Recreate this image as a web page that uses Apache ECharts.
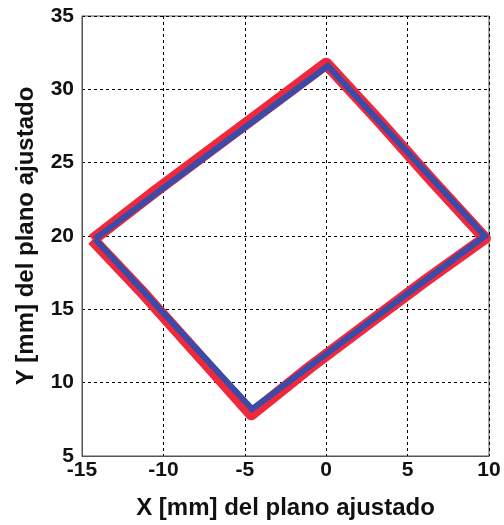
<!DOCTYPE html>
<html>
<head>
<meta charset="utf-8">
<script src="https://cdn.jsdelivr.net/npm/echarts@6/dist/echarts.min.js"></script>
<style>
  html, body { margin: 0; padding: 0; background: #fff; }
  #chart { width: 504px; height: 525px; }
</style>
</head>
<body>
<div id="chart"></div>
<script>
// Measured trajectory (red) around the square, in the fitted plane
const measuredX = [-14.35, -10.5, -7.0, -3.5, 0.0, 3.2, 6.4, 9.75, 6.1, 2.6, -1.0, -4.6, -7.9, -11.2, -14.35];
const measuredY = [19.75, 23.05, 25.95, 28.85, 31.75, 27.9, 23.9, 19.85, 16.95, 14.05, 11.05, 7.85, 11.95, 16.05, 19.75];

// Reference square (blue)
const targetX = [-14.2, 0.1, 9.75, -4.55, -14.2];
const targetY = [19.8, 31.6, 20.0, 8.2, 19.8];

// Axis ranges and ticks
const xMin = -15, xMax = 10, xStep = 5;
const yMin = 5, yMax = 35, yStep = 5;

const pairs = (xs, ys) => xs.map((x, i) => [x, ys[i]]);

const font = '"Liberation Sans", Arial, sans-serif';
const chart = echarts.init(document.getElementById('chart'), null, { renderer: 'canvas' });

const gridLine = { show: true, lineStyle: { color: '#000', width: 1, type: [3, 3] } };

chart.setOption({
  animation: false,
  grid: { left: 82, right: 15, top: 16, bottom: 62, show: true, borderColor: '#555', borderWidth: 1 },
  xAxis: {
    type: 'value', min: xMin, max: xMax, interval: xStep,
    name: 'X [mm] del plano ajustado', nameLocation: 'middle', nameGap: 40,
    nameTextStyle: { fontFamily: font, fontWeight: 'bold', fontSize: 24, color: '#111' },
    axisLine: { show: true, onZero: false, lineStyle: { color: '#555' } },
    axisTick: { show: false },
    axisLabel: { fontFamily: font, fontWeight: 'bold', fontSize: 21, color: '#111', margin: 4 },
    splitLine: gridLine
  },
  yAxis: {
    type: 'value', min: yMin, max: yMax, interval: yStep,
    name: 'Y [mm] del plano ajustado', nameLocation: 'middle', nameGap: 44,
    nameTextStyle: { fontFamily: font, fontWeight: 'bold', fontSize: 24, color: '#111' },
    axisLine: { show: true, onZero: false, lineStyle: { color: '#555' } },
    axisTick: { show: false },
    axisLabel: { fontFamily: font, fontWeight: 'bold', fontSize: 21, color: '#111', margin: 8 },
    splitLine: gridLine
  },
  series: [
    {
      type: 'line', data: pairs(measuredX, measuredY), showSymbol: false,
      lineStyle: { color: '#f0283c', width: 12, join: 'round' }, z: 2
    },
    {
      type: 'line', data: pairs(targetX, targetY), showSymbol: false,
      lineStyle: { color: '#3a4ba8', width: 6, join: 'miter' }, z: 3
    }
  ]
});
</script>
</body>
</html>
